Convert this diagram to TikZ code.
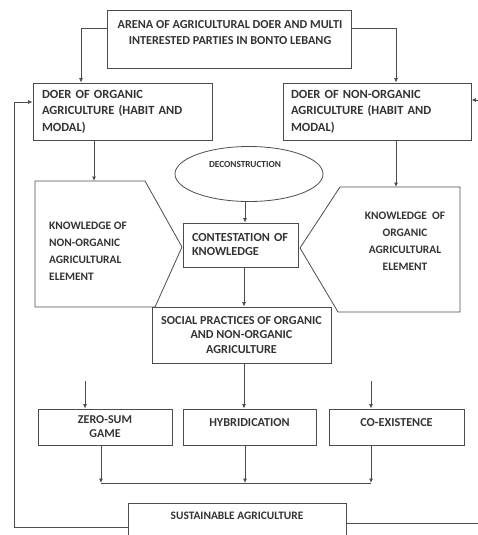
\documentclass[tikz,border=0pt]{standalone}
\usepackage{fontspec}
\setmainfont{Carlito}
\usetikzlibrary{shapes.geometric,arrows.meta}
\def\fs#1#2{\bfseries\fontsize{#1}{#2}\selectfont}
\tikzset{
  line/.style={draw=black!70, line width=0.8pt},
  txt/.style={font=\fs{12.2}{16.5}, text=black!80, inner sep=0pt},
  box/.style={txt, line, rectangle},
  arr/.style={line, -{Latex[length=4.5pt,width=4pt]}},
}
\begin{document}
\begin{tikzpicture}[x=1pt,y=-1pt]
\path[use as bounding box, clip] (0,0) rectangle (478,535);
% top row
\node[box, minimum width=244, minimum height=58] (arena) at (229,39) {};
\node[txt, align=center] (arenatxt) at (230,32.5) {ARENA OF AGRICULTURAL DOER AND MULTI\\INTERESTED PARTIES IN BONTO LEBANG};
\node[box, minimum width=179, minimum height=57, text width=161, align=left, font=\fs{12.5}{16.5}] (doerl) at (122.5,111.5) {DOER OF ORGANIC\\AGRICULTURE (HABIT AND\\MODAL)};
\node[box, minimum width=188, minimum height=57, text width=172, align=left, font=\fs{12.5}{16.5}] (doerr) at (377,111.5) {DOER OF NON-ORGANIC\\AGRICULTURE (HABIT AND\\MODAL)};
% middle
\node[line, ellipse, minimum width=148, minimum height=55] (decon) at (249,174) {};
\node[txt, font=\fs{9.3}{12}] (decontxt) at (245,164) {DECONSTRUCTION};
\node[box, minimum width=115, minimum height=44, text width=97, align=left, font=\fs{12.3}{14}] (contest) at (240.5,245) {CONTESTATION OF\\KNOWLEDGE};
\draw[line] (35,181) -- (145,181) -- (182,247) -- (155,307) -- (35,307) -- cycle;
\draw[line] (340,187) -- (460,187) -- (460,312) -- (338,312) -- (300,248) -- cycle;
\coordinate (kl) at (94,181);
\coordinate (kr) at (396,187);
\node[txt, align=left, anchor=west, font=\fs{11.4}{17}] (knowl) at (49,251.5) {KNOWLEDGE OF\\NON-ORGANIC\\AGRICULTURAL\\ELEMENT};
\node[txt, align=center, font=\fs{11.4}{17}] (knowr) at (405,241.5) {KNOWLEDGE \ OF\\ORGANIC\\AGRICULTURAL\\ELEMENT};
\node[box, minimum width=179, minimum height=56, align=center, font=\fs{12.2}{14.5}] (social) at (241.5,335) {SOCIAL PRACTICES OF ORGANIC\\AND NON-ORGANIC\\AGRICULTURE};
% outcomes
\node[box, minimum width=134, minimum height=36, align=center, font=\fs{12}{14}] (zero) at (105,427) {ZERO-SUM\\GAME};
\node[box, minimum width=133, minimum height=36, text height=8, text depth=10] (hybrid) at (249.5,427) {HYBRIDICATION};
\node[box, minimum width=135, minimum height=36, text height=8, text depth=10] (coex) at (396.5,427) {CO-EXISTENCE};
\node[box, minimum width=218, minimum height=48] (sust) at (237,527) {};
\node[txt, font=\fs{11.4}{14}] (susttxt) at (237,516) {SUSTAINABLE AGRICULTURE};
\coordinate (sl) at (85,381);
\coordinate (sr) at (371,381);
\coordinate (jl) at (101,483);
\coordinate (jm) at (245,483);
\coordinate (jr) at (371,483);
\coordinate (fl) at (14,527);
\coordinate (fr) at (490,523);
% connectors
\draw[arr] ([yshift=11pt]arena.west) -| ([xshift=-41.5pt]doerl.north);
\draw[arr] ([yshift=11pt]arena.east) -| ([xshift=19pt]doerr.north);
\draw[arr] (kl |- doerl.south) -- (kl);
\draw[arr] (kr |- doerr.south) -- (kr);
\draw[arr] ([xshift=-4pt]decon.south) -- ([xshift=4.5pt]contest.north);
\draw[arr] ([xshift=3.5pt]contest.south) -- ([xshift=2.5pt]social.north);
\draw[arr] ([xshift=2.5pt]social.south) -- ([xshift=-5.5pt]hybrid.north);
\draw[arr] (sl) -- (sl |- zero.north);
\draw[arr] (sr) -- (sr |- coex.north);
\draw[arr] (zero.south -| jl) -- (jl);
\draw[arr] (hybrid.south -| jm) -- (jm);
\draw[arr] (coex.south -| jr) -- (jr);
\draw[line] (jl) -- (jr);
\draw[arr] (sust.west) -- (fl) |- ([yshift=9.5pt]doerl.west);
\draw[arr] ([yshift=4pt]sust.east) -- (fr) |- ([yshift=11.5pt]doerr.east);
\end{tikzpicture}
\end{document}
